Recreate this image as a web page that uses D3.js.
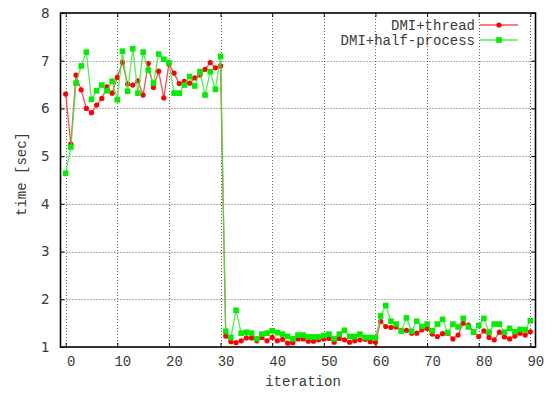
<!DOCTYPE html>
<html>
<head>
<meta charset="utf-8">
<script src="https://cdn.jsdelivr.net/npm/d3@7"></script>
<style>
  html, body { margin: 0; padding: 0; background: #fff; }
  svg { display: block; }
  .mono { font-family: "Liberation Mono", "Courier New", monospace; font-size: 14px; fill: #3a3a3a; }
  .sans { font-family: "DejaVu Sans", sans-serif; font-size: 13.5px; fill: #3a3a3a; }
</style>
</head>
<body>
<svg id="chart" width="552" height="394"></svg>
<script>
// Run time per iteration for the two DMI variants
const seriesNames = ["DMI+thread", "DMI+half-process"];

const threadTimes = [
  6.30, 5.25, 6.70, 6.39, 6.00, 5.91, 6.07, 6.21, 6.45, 6.32,
  6.65, 6.97, 6.51, 6.49, 6.58, 6.28, 6.94, 6.44, 6.78, 6.22,
  6.93, 6.74, 6.52, 6.57, 6.53, 6.64, 6.70, 6.82, 6.96, 6.85,
  6.89, 1.23, 1.11, 1.09, 1.13, 1.19, 1.19, 1.13, 1.20, 1.13,
  1.20, 1.13, 1.16, 1.08, 1.09, 1.17, 1.17, 1.12, 1.12, 1.15,
  1.17, 1.18, 1.10, 1.18, 1.15, 1.10, 1.13, 1.15, 1.16, 1.11,
  1.10, 1.54, 1.43, 1.41, 1.42, 1.35, 1.35, 1.29, 1.29, 1.36,
  1.39, 1.27, 1.22, 1.28, 1.29, 1.17, 1.25, 1.50, 1.46, 1.32,
  1.22, 1.34, 1.20, 1.15, 1.31, 1.21, 1.17, 1.23, 1.29, 1.25,
  1.32
];

const halfProcessTimes = [
  4.64, 5.19, 6.53, 6.89, 7.18, 6.19, 6.37, 6.49, 6.37, 6.57,
  6.18, 7.20, 6.36, 7.25, 6.32, 7.18, 6.80, 6.53, 7.14, 7.03,
  6.96, 6.32, 6.32, 6.49, 6.67, 6.47, 6.77, 6.28, 6.77, 6.40,
  7.09, 1.33, 1.20, 1.77, 1.29, 1.31, 1.29, 1.17, 1.27, 1.29,
  1.34, 1.30, 1.27, 1.22, 1.17, 1.25, 1.25, 1.21, 1.21, 1.21,
  1.24, 1.27, 1.17, 1.27, 1.35, 1.22, 1.22, 1.27, 1.20, 1.20,
  1.19, 1.65, 1.87, 1.54, 1.48, 1.33, 1.61, 1.33, 1.54, 1.43,
  1.48, 1.34, 1.48, 1.58, 1.30, 1.48, 1.42, 1.60, 1.42, 1.31,
  1.45, 1.60, 1.31, 1.48, 1.48, 1.31, 1.39, 1.32, 1.37, 1.36,
  1.55
];

const xTicks = [0, 10, 20, 30, 40, 50, 60, 70, 80, 90];
const yTicks = [1, 2, 3, 4, 5, 6, 7, 8];
const xTitle = "iteration";
const yTitle = "time [sec]";

const svg = d3.select("#chart");
const plot = { left: 60.5, right: 535.5, top: 13, bottom: 347 };

const x = d3.scaleLinear().domain([-1, 91]).range([plot.left, plot.right]);
const y = d3.scaleLinear().domain([1, 8]).range([plot.bottom, plot.top]);

// dotted grid
const grid = svg.append("g").attr("stroke", "#666").attr("stroke-width", 1)
  .attr("stroke-dasharray", "1,2").attr("fill", "none");
xTicks.forEach(t => {
  const px = Math.round(x(t)) + 0.5;
  grid.append("line").attr("x1", px).attr("x2", px).attr("y1", plot.top).attr("y2", plot.bottom);
});
yTicks.filter(t => t > 1 && t < 8).forEach(t => {
  const py = Math.round(y(t)) + 0.5;
  grid.append("line").attr("x1", plot.left).attr("x2", plot.right).attr("y1", py).attr("y2", py);
});

// axes: ticks point inward, mirrored on opposite sides
const tickLen = 4;
const fmt = d3.format("d");
const xAxisB = d3.axisBottom(x).tickValues(xTicks).tickFormat(fmt).tickSizeInner(-tickLen).tickSizeOuter(0).tickPadding(12);
const xAxisT = d3.axisTop(x).tickValues(xTicks).tickSizeInner(-tickLen).tickSizeOuter(0).tickFormat("");
const yAxisL = d3.axisLeft(y).tickValues(yTicks).tickFormat(fmt).tickSizeInner(-tickLen).tickSizeOuter(0).tickPadding(11);
const yAxisR = d3.axisRight(y).tickValues(yTicks).tickSizeInner(-tickLen).tickSizeOuter(0).tickFormat("");

const gB = svg.append("g").attr("transform", `translate(0,${plot.bottom})`).call(xAxisB);
gB.selectAll("text").attr("class", "mono").attr("dx", 5).attr("dy", "0.5em");
const gT = svg.append("g").attr("transform", `translate(0,${plot.top})`).call(xAxisT);
const gL = svg.append("g").attr("transform", `translate(${plot.left},0)`).call(yAxisL);
gL.selectAll("text").attr("class", "sans");
const gR = svg.append("g").attr("transform", `translate(${plot.right},0)`).call(yAxisR);
[gB, gT, gL, gR].forEach(g => {
  g.select(".domain").remove();
  g.selectAll(".tick line").attr("stroke", "#000").attr("stroke-width", 1);
});

// frame
svg.append("rect")
  .attr("x", plot.left).attr("y", plot.top)
  .attr("width", plot.right - plot.left).attr("height", plot.bottom - plot.top)
  .attr("fill", "none").attr("stroke", "#000").attr("stroke-width", 1.6);

// axis titles
svg.append("text").attr("class", "mono").attr("x", (plot.left + plot.right) / 2 + 5).attr("y", 386)
  .attr("text-anchor", "middle").text(xTitle);
svg.append("text").attr("class", "mono")
  .attr("transform", `translate(26,174) rotate(-90)`)
  .attr("text-anchor", "middle").text(yTitle);

// series
const series = [
  { name: seriesNames[0], values: threadTimes, color: "#ff0000", line: "#ff3030", shape: "circle" },
  { name: seriesNames[1], values: halfProcessTimes, color: "#00ee00", line: "#33ee33", shape: "square" }
];

const lineGen = d3.line().x((d, i) => x(i)).y(d => y(d));
svg.append("clipPath").attr("id", "plotclip").append("rect")
  .attr("x", plot.left).attr("y", plot.top).attr("width", plot.right - plot.left).attr("height", plot.bottom - plot.top);

function drawMarker(g, shape, cx, cy, color) {
  if (shape === "circle") {
    g.append("circle").attr("cx", cx).attr("cy", cy).attr("r", 2.6).attr("fill", color);
  } else {
    const s = 5.6;
    g.append("rect").attr("x", cx - s / 2).attr("y", cy - s / 2).attr("width", s).attr("height", s).attr("fill", color);
  }
}

series.forEach(s => {
  const g = svg.append("g").attr("clip-path", "url(#plotclip)");
  g.append("path").datum(s.values).attr("d", lineGen)
    .attr("fill", "none").attr("stroke", s.line).attr("stroke-width", 1.3).attr("stroke-opacity", 0.85);
  s.values.forEach((v, i) => drawMarker(g, s.shape, x(i), y(v), s.color));
});

// legend
const legend = svg.append("g");
series.forEach((s, k) => {
  const ly = 25 + k * 15;
  legend.append("text").attr("class", "mono").attr("x", 475).attr("y", ly)
    .attr("dy", "0.35em").attr("text-anchor", "end").text(s.name);
  legend.append("line").attr("x1", 480).attr("x2", 518).attr("y1", ly).attr("y2", ly)
    .attr("stroke", s.line).attr("stroke-width", 1.3).attr("stroke-opacity", 0.85);
  drawMarker(legend, s.shape, 499, ly, s.color);
});
</script>
</body>
</html>
